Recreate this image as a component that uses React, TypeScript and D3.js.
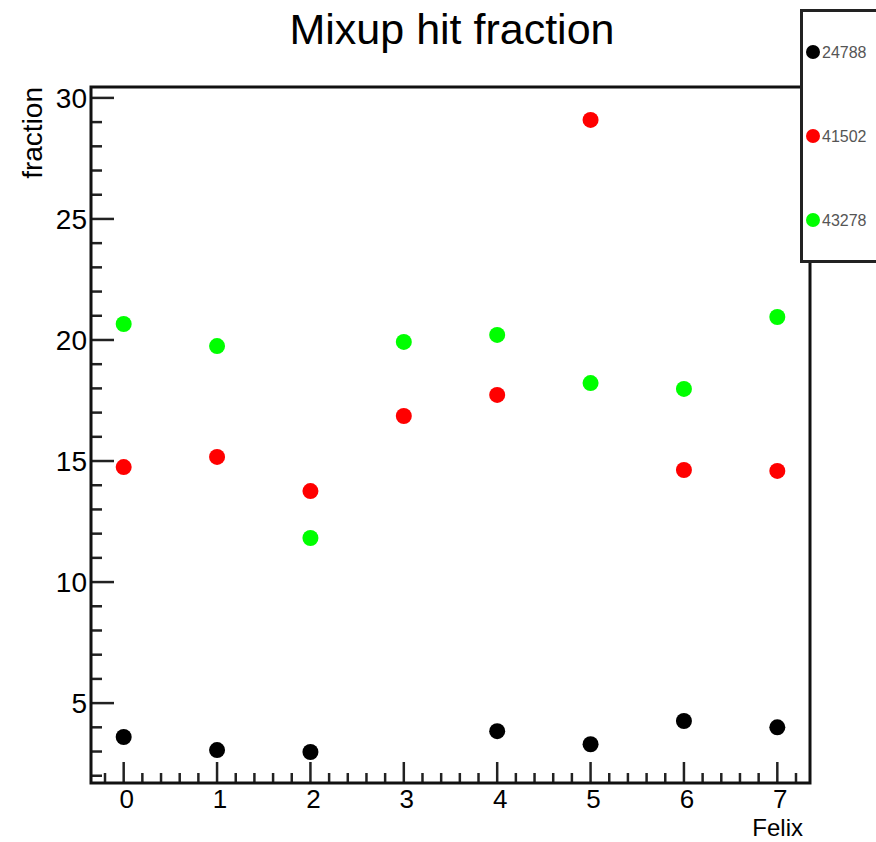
/**
 * Mixup hit fraction - ROOT style scatter, drawn with D3
 */

import { useEffect, useRef } from 'react';
import * as d3 from 'd3';

const felix = [0, 1, 2, 3, 4, 5, 6, 7];

const seriesNames = ['24788', '41502', '43278'];
const seriesColors = ['#000000', '#ff0000', '#00ff00'];

// null = point not shown in the picture
const run24788: (number | null)[] = [3.6, 3.06, 2.98, null, 3.84, 3.3, 4.26, 4.0];
const run41502: (number | null)[] = [14.75, 15.17, 13.76, 16.86, 17.73, 29.09, 14.63, 14.59];
const run43278: (number | null)[] = [20.66, 19.75, 11.82, 19.92, 20.21, 18.22, 17.98, 20.95];

const seriesValues = [run24788, run41502, run43278];

const xTicks = [0, 1, 2, 3, 4, 5, 6, 7];
const yTicks = [5, 10, 15, 20, 25, 30];

const WIDTH = 876;
const HEIGHT = 842;

export default function App() {
  const svgRef = useRef<SVGSVGElement>(null);

  useEffect(() => {
    if (!svgRef.current) return;
    const svg = d3.select(svgRef.current);
    svg.selectAll('*').remove();

    const frame = { left: 91, right: 810, top: 87, bottom: 783 };

    const x = d3.scaleLinear().domain([-0.35, 7.35]).range([frame.left, frame.right]);
    const y = d3.scaleLinear().domain([1.7, 30.45]).range([frame.bottom, frame.top]);

    const font = '"Liberation Sans", Arial, sans-serif';

    svg.append('rect').attr('width', WIDTH).attr('height', HEIGHT).attr('fill', '#fff');

    // Title
    svg.append('text')
      .attr('x', 452)
      .attr('y', 44)
      .attr('text-anchor', 'middle')
      .style('font-family', font)
      .style('font-size', '43px')
      .text('Mixup hit fraction');

    // Ticks (drawn inside the frame, ROOT style)
    const ticks = svg.append('g').attr('stroke', '#222');

    // x minor ticks every 0.2
    const xMinor = d3.range(-0.2, 7.3, 0.2).map(v => Math.round(v * 10) / 10);
    ticks.selectAll('line.xminor')
      .data(xMinor.filter(v => Math.abs(v - Math.round(v)) > 0.01))
      .join('line')
      .attr('x1', d => x(d)).attr('x2', d => x(d))
      .attr('y1', frame.bottom).attr('y2', frame.bottom - 10)
      .attr('stroke-width', 2.5);
    ticks.selectAll('line.xmajor')
      .data(xTicks)
      .join('line')
      .attr('x1', d => x(d)).attr('x2', d => x(d))
      .attr('y1', frame.bottom).attr('y2', frame.bottom - 21)
      .attr('stroke-width', 2.5);

    // y minor ticks every 1
    const yMinor = d3.range(2, 31, 1).filter(v => v % 5 !== 0);
    ticks.selectAll('line.yminor')
      .data(yMinor)
      .join('line')
      .attr('x1', frame.left).attr('x2', frame.left + 11)
      .attr('y1', d => y(d)).attr('y2', d => y(d))
      .attr('stroke-width', 2.5);
    ticks.selectAll('line.ymajor')
      .data(yTicks)
      .join('line')
      .attr('x1', frame.left).attr('x2', frame.left + 23)
      .attr('y1', d => y(d)).attr('y2', d => y(d))
      .attr('stroke-width', 2.5);

    // Frame
    svg.append('rect')
      .attr('x', frame.left)
      .attr('y', frame.top)
      .attr('width', frame.right - frame.left)
      .attr('height', frame.bottom - frame.top)
      .attr('fill', 'none')
      .attr('stroke', '#111')
      .attr('stroke-width', 3);

    // Tick labels
    svg.append('g')
      .style('font-family', font)
      .style('font-size', '26px')
      .attr('text-anchor', 'middle')
      .selectAll('text')
      .data(xTicks)
      .join('text')
      .attr('x', d => x(d) + 3)
      .attr('y', 808)
      .text(d => d);

    svg.append('g')
      .style('font-family', font)
      .style('font-size', '28px')
      .attr('text-anchor', 'end')
      .selectAll('text')
      .data(yTicks)
      .join('text')
      .attr('x', 87)
      .attr('y', d => y(d) + 10)
      .text(d => d);

    // Axis titles
    svg.append('text')
      .attr('x', 803)
      .attr('y', 836)
      .attr('text-anchor', 'end')
      .style('font-family', font)
      .style('font-size', '24px')
      .text('Felix');

    svg.append('text')
      .attr('transform', 'translate(42,87) rotate(-90)')
      .attr('text-anchor', 'end')
      .style('font-family', font)
      .style('font-size', '28px')
      .text('fraction');

    // Points
    seriesValues.forEach((vals, i) => {
      svg.append('g')
        .selectAll('circle')
        .data(felix.map((f, j) => ({ f, v: vals[j] })).filter(d => d.v !== null))
        .join('circle')
        .attr('cx', d => x(d.f))
        .attr('cy', d => y(d.v as number))
        .attr('r', 8)
        .attr('fill', seriesColors[i]);
    });

    // Legend
    const legend = svg.append('g');
    legend.append('rect')
      .attr('x', 801.5)
      .attr('y', 10.5)
      .attr('width', 90)
      .attr('height', 251)
      .attr('fill', '#fff')
      .attr('stroke', '#222')
      .attr('stroke-width', 3);

    const legendY = d3.scalePoint<string>().domain(seriesNames).range([52, 220]);
    seriesNames.forEach((name, i) => {
      legend.append('circle')
        .attr('cx', 813)
        .attr('cy', legendY(name)!)
        .attr('r', 7)
        .attr('fill', seriesColors[i]);
      legend.append('text')
        .attr('x', 822)
        .attr('y', (legendY(name) ?? 0) + 6)
        .style('font-family', font)
        .style('font-size', '16px')
        .attr('fill', '#555')
        .text(name);
    });
  }, []);

  return (
    <svg
      ref={svgRef}
      width={WIDTH}
      height={HEIGHT}
      style={{ position: 'absolute', left: 0, top: 0, display: 'block' }}
    />
  );
}
